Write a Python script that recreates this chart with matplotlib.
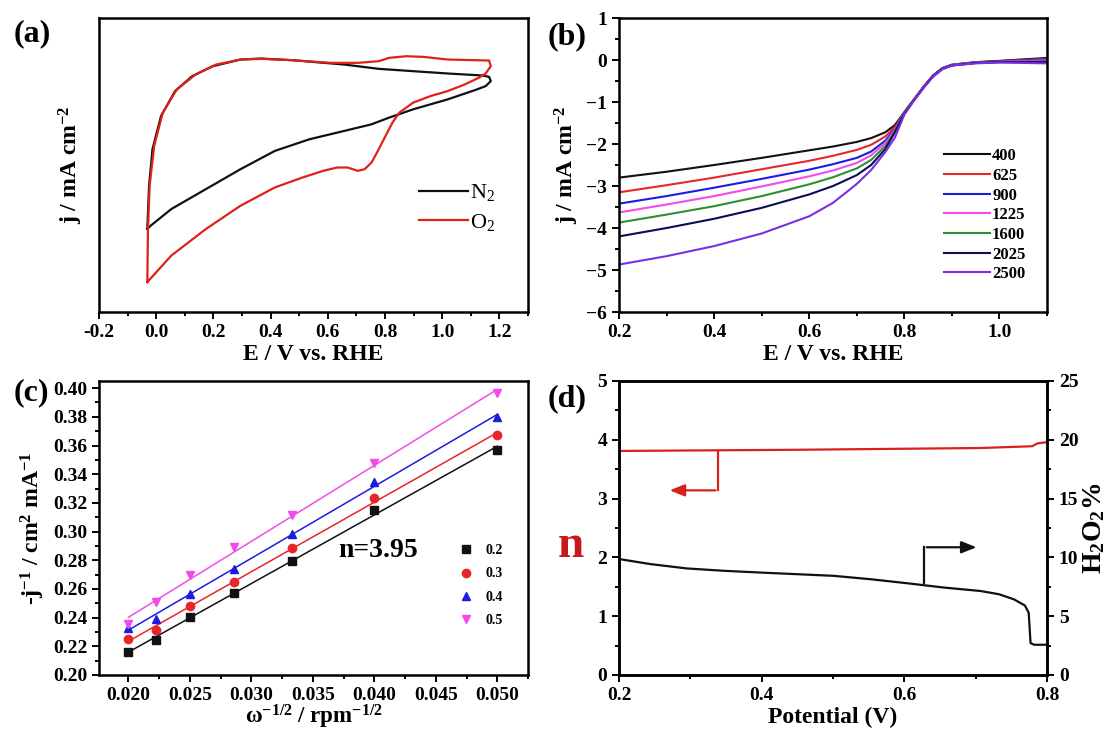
import numpy as np
import matplotlib
matplotlib.use("Agg")
import matplotlib.pyplot as plt
from matplotlib.ticker import MultipleLocator, FormatStrFormatter

plt.rcParams["font.family"] = ["Liberation Serif", "DejaVu Serif"]
plt.rcParams["font.weight"] = "bold"
plt.rcParams["axes.labelweight"] = "bold"
plt.rcParams["mathtext.fontset"] = "custom"
plt.rcParams["mathtext.rm"] = "Liberation Serif:bold"
plt.rcParams["mathtext.it"] = "Liberation Serif:bold:italic"
plt.rcParams["mathtext.bf"] = "Liberation Serif:bold"
plt.rcParams["mathtext.default"] = "rm"

# ---- (a) CV in N2 / O2 (arbitrary current units) ----
cv_n2_E = [-0.031, -0.025, -0.013, 0.017, 0.066, 0.126, 0.198, 0.295, 0.367, 0.476, 0.657, 0.778,
           0.898, 1.019, 1.14, 1.164, 1.17, 1.152, 1.115, 1.019, 0.898, 0.814, 0.753, 0.657,
           0.536, 0.415, 0.295, 0.174, 0.053, -0.019, -0.031]
cv_n2_j = [-0.225, 0.10, 0.375, 0.625, 0.8125, 0.925, 1.0, 1.05, 1.0575, 1.045, 1.0125, 0.98,
           0.9625, 0.945, 0.93, 0.92, 0.8875, 0.85, 0.82, 0.75, 0.675, 0.6125, 0.5625, 0.5125,
           0.45, 0.3625, 0.225, 0.075, -0.075, -0.2, -0.225]
cv_o2_E = [-0.031, -0.029, -0.023, -0.007, 0.023, 0.072, 0.138, 0.21, 0.295, 0.367, 0.476, 0.609,
           0.705, 0.778, 0.814, 0.874, 0.934, 1.019, 1.164, 1.17, 1.152, 1.128, 1.079, 1.019,
           0.959, 0.898, 0.85, 0.826, 0.808, 0.79, 0.772, 0.753, 0.729, 0.705, 0.669, 0.633,
           0.584, 0.512, 0.415, 0.295, 0.174, 0.053, -0.031]
cv_o2_j = [-0.625, -0.25, 0.10, 0.40, 0.65, 0.825, 0.9375, 1.0125, 1.05, 1.055, 1.045, 1.025,
           1.025, 1.0375, 1.0625, 1.075, 1.07, 1.05, 1.0425, 1.0, 0.945, 0.9125, 0.8625, 0.8125,
           0.775, 0.725, 0.65, 0.575, 0.5, 0.425, 0.35, 0.275, 0.225, 0.2125, 0.2375, 0.2375,
           0.2125, 0.1625, 0.0875, -0.05, -0.225, -0.425, -0.625]

# ---- (b) LSV at different rotation rates ----
lsv_E = [0.2, 0.3, 0.4, 0.5, 0.6, 0.65, 0.7, 0.73, 0.76, 0.78,
         0.8, 0.82, 0.84, 0.86, 0.88, 0.9, 0.95, 1.0, 1.1]
rpm_labels = ["400", "625", "900", "1225", "1600", "2025", "2500"]
lsv_j = [
    [-2.80, -2.66, -2.50, -2.33, -2.15, -2.06, -1.95, -1.86, -1.72, -1.55, -1.24, -0.94, -0.64, -0.37, -0.19, -0.11, -0.05, -0.02, 0.05],
    [-3.15, -2.98, -2.80, -2.60, -2.40, -2.28, -2.14, -2.02, -1.82, -1.60, -1.25, -0.95, -0.65, -0.38, -0.20, -0.12, -0.06, -0.03, 0.03],
    [-3.42, -3.24, -3.04, -2.83, -2.61, -2.48, -2.33, -2.18, -1.92, -1.64, -1.25, -0.95, -0.65, -0.38, -0.20, -0.12, -0.06, -0.03, 0.01],
    [-3.63, -3.44, -3.24, -3.01, -2.77, -2.63, -2.45, -2.27, -1.98, -1.66, -1.26, -0.95, -0.65, -0.38, -0.20, -0.12, -0.06, -0.04, -0.01],
    [-3.87, -3.68, -3.48, -3.24, -2.96, -2.79, -2.58, -2.38, -2.05, -1.70, -1.27, -0.96, -0.66, -0.39, -0.21, -0.13, -0.07, -0.05, -0.03],
    [-4.20, -4.00, -3.78, -3.52, -3.20, -3.00, -2.74, -2.50, -2.12, -1.72, -1.28, -0.96, -0.66, -0.39, -0.21, -0.13, -0.07, -0.05, -0.05],
    [-4.87, -4.67, -4.43, -4.13, -3.72, -3.40, -2.95, -2.62, -2.19, -1.85, -1.30, -0.97, -0.67, -0.40, -0.22, -0.13, -0.08, -0.06, -0.08],
]
lsv_colors = ["#111111", "#e8262a", "#1c1ce0", "#f24bea", "#2f8f30", "#0c0c58", "#7a2fe6"]

# ---- (c) K-L plots ----
kl_x = [0.02, 0.02222, 0.025, 0.02857, 0.03333, 0.04, 0.05]
kl_potentials = ["0.2", "0.3", "0.4", "0.5"]
kl_y = [
    [0.2158, 0.2246, 0.2406, 0.2573, 0.2795, 0.3153, 0.3570],
    [0.2251, 0.2313, 0.2480, 0.2649, 0.2883, 0.3236, 0.3671],
    [0.2330, 0.2390, 0.2566, 0.2742, 0.2986, 0.3344, 0.3797],
    [0.2353, 0.2508, 0.2699, 0.2890, 0.3117, 0.3475, 0.3964],
]
kl_colors = ["#111111", "#e8262a", "#1c1ce0", "#f24bea"]
kl_markers = ["s", "o", "^", "v"]

# ---- (d) electron transfer number and H2O2 yield ----
n_E = [0.2, 0.45, 0.707, 0.779, 0.787, 0.8]
n_val = [3.81, 3.83, 3.86, 3.89, 3.94, 3.96]
h2o2_E = [0.2, 0.2438, 0.295, 0.3468, 0.398, 0.45, 0.501, 0.553, 0.604, 0.656, 0.707,
          0.733, 0.7537, 0.769, 0.7743, 0.7769, 0.782, 0.8]
h2o2_val = [9.86, 9.43, 9.06, 8.86, 8.71, 8.57, 8.43, 8.14, 7.8, 7.43, 7.14,
            6.86, 6.43, 5.91, 5.29, 2.71, 2.57, 2.57]
# arrow paths: (E, n) for red, (E, %) for black
red_arrow_E = [0.339, 0.339, 0.267]
red_arrow_y = [3.81, 3.14, 3.14]
blk_arrow_E = [0.6275, 0.6275, 0.705]
blk_arrow_y = [7.86, 10.86, 10.86]


def style_axes(ax, fs=14):
    for s in ax.spines.values():
        s.set_linewidth(1.8)
    ax.tick_params(which="both", direction="out", width=1.4, labelsize=fs)
    ax.tick_params(which="major", length=5)
    ax.tick_params(which="minor", length=3)


fig = plt.figure(figsize=(11.16, 7.29), dpi=100)
axa = fig.add_axes([0.0887, 0.572, 0.3844, 0.4033])
axb = fig.add_axes([0.5547, 0.572, 0.3835, 0.4033])
axc = fig.add_axes([0.0887, 0.0741, 0.3844, 0.4033])
axd = fig.add_axes([0.5547, 0.0741, 0.3835, 0.4033])

# (a)
axa.plot(cv_n2_E, cv_n2_j, color="#111111", lw=1.6, label=r"$\mathregular{N_2}$")
axa.plot(cv_o2_E, cv_o2_j, color="#e0201b", lw=1.6, label=r"$\mathregular{O_2}$")
axa.set_xlim(-0.2, 1.3)
axa.set_ylim(-0.85, 1.3625)
axa.set_yticks([])
axa.xaxis.set_major_locator(MultipleLocator(0.2))
axa.xaxis.set_minor_locator(MultipleLocator(0.1))
axa.xaxis.set_major_formatter(FormatStrFormatter("%.1f"))
style_axes(axa)
axa.set_xlabel("E / V vs. RHE", fontsize=17, labelpad=2)
axa.set_ylabel("j / mA cm$^{-2}$", fontsize=17, labelpad=10)
axa.legend(loc="lower right", bbox_to_anchor=(0.97, 0.2), frameon=False,
           prop={"size": 16, "weight": "normal"}, handlelength=2.2, handletextpad=0.1,
           labelspacing=0.4)

# (b)
for lab, jj, c in zip(rpm_labels, lsv_j, lsv_colors):
    axb.plot(lsv_E, jj, color=c, lw=1.5, label=lab)
axb.set_xlim(0.2, 1.1)
axb.set_ylim(-6, 1)
axb.xaxis.set_major_locator(MultipleLocator(0.2))
axb.xaxis.set_minor_locator(MultipleLocator(0.1))
axb.xaxis.set_major_formatter(FormatStrFormatter("%.1f"))
axb.yaxis.set_major_locator(MultipleLocator(1))
axb.yaxis.set_minor_locator(MultipleLocator(0.5))
style_axes(axb)
axb.set_xlabel("E / V vs. RHE", fontsize=17, labelpad=2)
axb.set_ylabel("j / mA cm$^{-2}$", fontsize=17, labelpad=4)
axb.legend(loc="lower right", bbox_to_anchor=(0.985, 0.05), frameon=False,
           prop={"size": 12, "weight": "bold"}, handlelength=2.8, handletextpad=0.1,
           labelspacing=0.22)

# (c)
for lab, yy, c, m in zip(kl_potentials, kl_y, kl_colors, kl_markers):
    k, b = np.polyfit(kl_x, yy, 1)
    xx = np.array([kl_x[0], kl_x[-1]])
    axc.plot(xx, k * xx + b, color=c, lw=1.1)
    axc.plot(kl_x, yy, ls="none", marker=m, color=c, ms=6, label=lab)
axc.set_xlim(0.0176, 0.0525)
axc.set_ylim(0.20, 0.405)
axc.xaxis.set_major_locator(MultipleLocator(0.005))
axc.xaxis.set_minor_locator(MultipleLocator(0.0025))
axc.xaxis.set_major_formatter(FormatStrFormatter("%.3f"))
axc.yaxis.set_major_locator(MultipleLocator(0.02))
axc.yaxis.set_minor_locator(MultipleLocator(0.01))
axc.yaxis.set_major_formatter(FormatStrFormatter("%.2f"))
style_axes(axc)
axc.set_xlabel("\u03c9$^{-1/2}$ / rpm$^{-1/2}$", fontsize=16.5, labelpad=-1)
axc.set_ylabel("-j$^{-1}$ / cm$^{2}$ mA$^{-1}$", fontsize=17, labelpad=4)
axc.text(0.0403, 0.2866, "n=3.95", fontsize=20, ha="center", va="center")
axc.legend(loc="lower right", bbox_to_anchor=(0.97, 0.12), frameon=False,
           prop={"size": 10, "weight": "bold"}, handlelength=1.0, handletextpad=0.9,
           labelspacing=0.75)

# (d)
axd2 = axd.twinx()
axd.plot(n_E, n_val, color="#d8201c", lw=1.6)
axd.plot(red_arrow_E[:2], red_arrow_y[:2], color="#d8201c", lw=1.6)
axd.annotate("", xy=(red_arrow_E[2], red_arrow_y[2]), xytext=(red_arrow_E[1], red_arrow_y[1]),
             arrowprops=dict(arrowstyle="-|>,head_length=0.5,head_width=0.2",
                             color="#d8201c", lw=1.6, mutation_scale=18))
axd2.plot(h2o2_E, h2o2_val, color="#111111", lw=1.6)
axd2.plot(blk_arrow_E[:2], blk_arrow_y[:2], color="#111111", lw=1.6)
axd2.annotate("", xy=(blk_arrow_E[2], blk_arrow_y[2]), xytext=(blk_arrow_E[1], blk_arrow_y[1]),
              arrowprops=dict(arrowstyle="-|>,head_length=0.5,head_width=0.2",
                              color="#111111", lw=1.6, mutation_scale=18))
axd.set_xlim(0.2, 0.8)
axd.set_ylim(0, 5)
axd2.set_ylim(0, 25)
axd.xaxis.set_major_locator(MultipleLocator(0.2))
axd.xaxis.set_minor_locator(MultipleLocator(0.1))
axd.xaxis.set_major_formatter(FormatStrFormatter("%.1f"))
axd.yaxis.set_major_locator(MultipleLocator(1))
axd.yaxis.set_minor_locator(MultipleLocator(0.5))
axd2.yaxis.set_major_locator(MultipleLocator(5))
axd2.yaxis.set_minor_locator(MultipleLocator(2.5))
style_axes(axd)
style_axes(axd2)
axd.set_xlabel("Potential (V)", fontsize=17, labelpad=2)
axd.set_ylabel("n", fontsize=34, color="#c8171e", rotation=0, va="center", ha="center")
axd.yaxis.set_label_coords(-0.112, 0.44)
axd2.set_ylabel("H$_2$O$_2$%", fontsize=20, labelpad=2)

# panel letters
for ax, letter, dx, dy in [(axa, "(a)", -0.2, 0.945), (axb, "(b)", -0.168, 0.937),
                           (axc, "(c)", -0.2, 0.96), (axd, "(d)", -0.168, 0.94)]:
    ax.text(dx, dy, letter, transform=ax.transAxes, fontsize=23, ha="left", va="center")

fig.savefig("out.png", dpi=100)
